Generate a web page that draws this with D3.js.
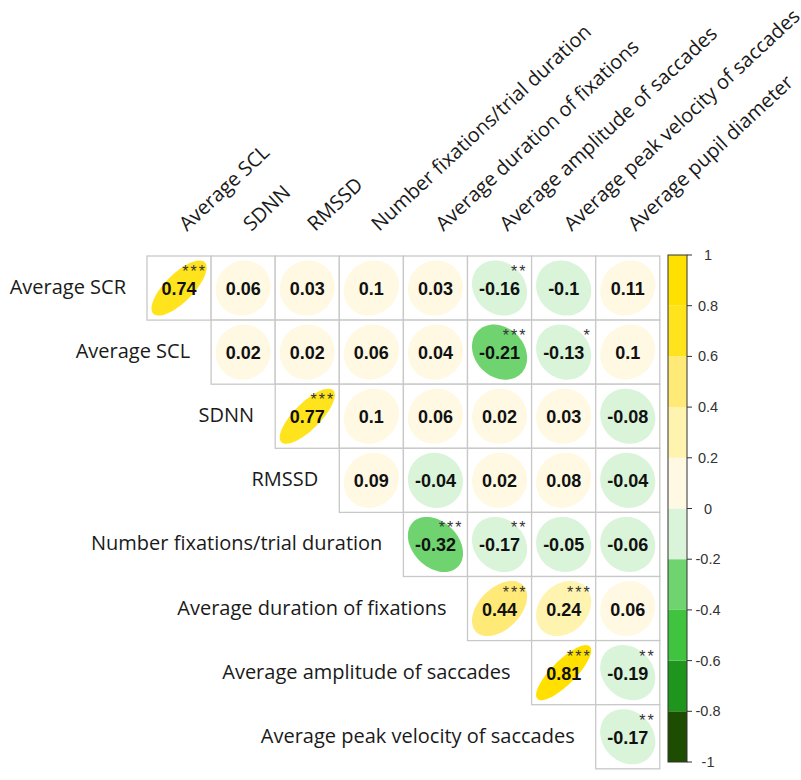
<!DOCTYPE html>
<html>
<head>
<meta charset="utf-8">
<title>Correlation matrix</title>
<style>
body { margin: 0; background: #fff; }
.row-label, .col-label {
  font-family: "Open Sans", sans-serif;
  font-size: 20px;
  fill: #1a1a1a;
}
.cell-value {
  font-family: "Liberation Sans", Arial, sans-serif;
  font-weight: bold;
  font-size: 18px;
  text-anchor: middle;
  fill: #111;
}
.stars {
  font-family: "Liberation Sans", Arial, sans-serif;
  font-size: 16px;
  letter-spacing: 2px;
  text-anchor: end;
  fill: #333;
}
.legend-label {
  font-family: "Liberation Sans", Arial, sans-serif;
  font-size: 14.5px;
  text-anchor: middle;
  fill: #333;
}
</style>
</head>
<body>
<svg id="chart" width="801" height="780"></svg>
<script src="https://cdn.jsdelivr.net/npm/d3@7"></script>
<script>

// variables, rows and columns of the upper triangle
var rowLabels = ["Average SCR", "Average SCL", "SDNN", "RMSSD",
  "Number fixations/trial duration", "Average duration of fixations",
  "Average amplitude of saccades", "Average peak velocity of saccades"];
var colLabels = ["Average SCL", "SDNN", "RMSSD", "Number fixations/trial duration",
  "Average duration of fixations", "Average amplitude of saccades",
  "Average peak velocity of saccades", "Average pupil diameter"];

// row i holds columns i..7
var corrValues = [
  [0.74, 0.06, 0.03, 0.1, 0.03, -0.16, -0.1, 0.11],
  [0.02, 0.02, 0.06, 0.04, -0.21, -0.13, 0.1],
  [0.77, 0.1, 0.06, 0.02, 0.03, -0.08],
  [0.09, -0.04, 0.02, 0.08, -0.04],
  [-0.32, -0.17, -0.05, -0.06],
  [0.44, 0.24, 0.06],
  [0.81, -0.19],
  [-0.17]
];
var sigStars = [
  ["***", "", "", "", "", "**", "", ""],
  ["", "", "", "", "***", "*", ""],
  ["***", "", "", "", "", ""],
  ["", "", "", "", ""],
  ["***", "**", "", ""],
  ["***", "***", ""],
  ["***", "**"],
  ["**"]
];

var legendTicks = [1, 0.8, 0.6, 0.4, 0.2, 0, -0.2, -0.4, -0.6, -0.8, -1];
var binEdges = [-1, -0.8, -0.6, -0.4, -0.2, 0, 0.2, 0.4, 0.6, 0.8, 1];
var binColors = ["#1d4d00", "#1e961e", "#40c440", "#6fd46f", "#d9f4d9",
                 "#fff9e3", "#fff3b0", "#ffe977", "#ffe31c", "#ffe000"];

var svg = d3.select("#chart");
var n = colLabels.length;
var cell = 64.1;
var x0 = 147, y0 = 256;

var x = d3.scaleBand().domain(d3.range(n)).range([x0, x0 + n * cell]);
var y = d3.scaleBand().domain(d3.range(n)).range([y0, y0 + n * cell]);
var color = d3.scaleThreshold().domain(binEdges.slice(1, -1)).range(binColors);

// corrplot style ellipse for a correlation r
function ellipsePath(r, cx, cy) {
  var d = Math.acos(r), s = 0.43 * cell;
  var pts = d3.range(0, 2 * Math.PI, Math.PI / 40).map(function (k) {
    return [cx + s * Math.cos(k + d / 2), cy - s * Math.cos(k - d / 2)];
  });
  return d3.line().curve(d3.curveLinearClosed)(pts);
}

var cells = [];
corrValues.forEach(function (row, i) {
  row.forEach(function (v, j) {
    cells.push({row: i, col: i + j, value: v, stars: sigStars[i][j]});
  });
});

var g = svg.append("g");

g.selectAll("rect.cell").data(cells).enter().append("rect")
  .attr("class", "cell")
  .attr("x", function (d) { return x(d.col); })
  .attr("y", function (d) { return y(d.row); })
  .attr("width", cell).attr("height", cell)
  .attr("fill", "#fff")
  .attr("stroke", "#c8c8c8")
  .attr("stroke-width", 1.3);

g.selectAll("path.ell").data(cells).enter().append("path")
  .attr("class", "ell")
  .attr("d", function (d) {
    return ellipsePath(d.value, x(d.col) + cell / 2, y(d.row) + cell / 2);
  })
  .attr("fill", function (d) { return color(d.value); });

g.selectAll("text.cell-value").data(cells).enter().append("text")
  .attr("class", "cell-value")
  .attr("x", function (d) { return x(d.col) + cell / 2; })
  .attr("y", function (d) { return y(d.row) + cell / 2 + 7; })
  .text(function (d) { return d.value; });

g.selectAll("text.stars").data(cells.filter(function (d) { return d.stars; }))
  .enter().append("text")
  .attr("class", "stars")
  .attr("x", function (d) { return x(d.col) + cell / 2 + 28; })
  .attr("y", function (d) { return y(d.row) + 21; })
  .text(function (d) { return d.stars; });

// row labels, right aligned to the first cell of each row
svg.selectAll("text.row-label").data(rowLabels).enter().append("text")
  .attr("class", "row-label")
  .attr("text-anchor", "end")
  .attr("x", function (d, i) { return x(i) - 21; })
  .attr("y", function (d, i) { return y(i) + cell / 2 + 6; })
  .text(function (d) { return d; });

// column labels, slanted
svg.selectAll("text.col-label").data(colLabels).enter().append("text")
  .attr("class", "col-label")
  .attr("transform", function (d, i) {
    return "translate(" + (x(i) + cell / 2 + 8) + "," + (y0 - 24) + ") rotate(-43)";
  })
  .text(function (d) { return d; });

// colour legend
var ly = d3.scaleLinear().domain([-1, 1]).range([762, 255]);
var lx = 668, lw = 19;
var legend = svg.append("g");
legend.selectAll("rect").data(binColors).enter().append("rect")
  .attr("x", lx)
  .attr("y", function (d, i) { return ly(binEdges[i + 1]); })
  .attr("width", lw)
  .attr("height", function (d, i) { return ly(binEdges[i]) - ly(binEdges[i + 1]); })
  .attr("fill", function (d) { return d; });
legend.append("rect")
  .attr("x", lx).attr("y", ly(1))
  .attr("width", lw).attr("height", ly(-1) - ly(1))
  .attr("fill", "none").attr("stroke", "#333").attr("stroke-width", 1);
legend.selectAll("line").data(legendTicks).enter().append("line")
  .attr("x1", lx + lw).attr("x2", lx + lw + 5)
  .attr("y1", function (d) { return ly(d); })
  .attr("y2", function (d) { return ly(d); })
  .attr("stroke", "#333");
legend.selectAll("text").data(legendTicks).enter().append("text")
  .attr("class", "legend-label")
  .attr("x", 708)
  .attr("y", function (d) { return ly(d) + 5; })
  .text(function (d) { return d; });

</script>
</body>
</html>
